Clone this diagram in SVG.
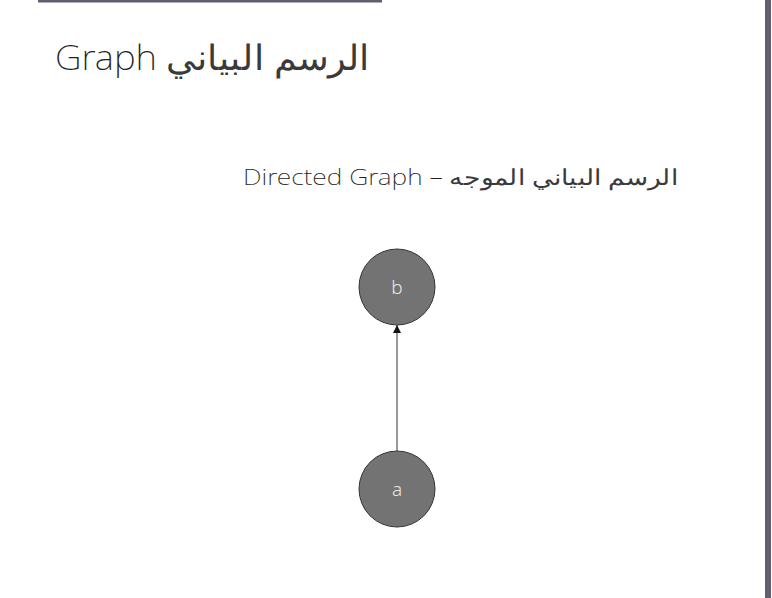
<svg xmlns="http://www.w3.org/2000/svg" width="772" height="598" viewBox="0 0 772 598">
<style>
.t{font-family:"Noto Sans","DejaVu Sans",sans-serif;font-weight:200;fill:#222}
.ar{fill:#3a3a3a}
.n circle{fill:#737373;stroke:#333;stroke-width:1}
.n text{font-family:"Noto Sans","DejaVu Sans",sans-serif;font-weight:300;font-size:19px;fill:#e6e6e6;text-anchor:middle}
</style>
<defs>
<marker id="ah" viewBox="0 0 10 10" refX="10" refY="5" markerWidth="8" markerHeight="8" markerUnits="userSpaceOnUse" orient="auto">
<path d="M0,0L10,5L0,10z" fill="#111"/>
</marker>
</defs>
<rect width="772" height="598" fill="#fff"/>
<rect x="38" y="0" width="344" height="2.5" fill="#5f5f6e"/>
<rect x="765" y="0" width="6" height="598" fill="#5f5f6e"/>
<text class="t" x="55" y="70" font-size="35" textLength="315" lengthAdjust="spacingAndGlyphs">Graph <tspan class="ar">الرسم البياني</tspan></text>
<text class="t" x="243" y="185" font-size="22" textLength="435" lengthAdjust="spacingAndGlyphs">Directed Graph – <tspan class="ar">الرسم البياني الموجه</tspan></text>
<g id="edges">
<line x1="397" y1="451" x2="397" y2="325" stroke="#333" stroke-width="1" marker-end="url(#ah)"/>
</g>
<g id="node-b" class="n">
<circle cx="397" cy="287" r="38"/>
<text x="397" y="294">b</text>
</g>
<g id="node-a" class="n">
<circle cx="397" cy="489" r="38"/>
<text x="397" y="496">a</text>
</g>
</svg>
